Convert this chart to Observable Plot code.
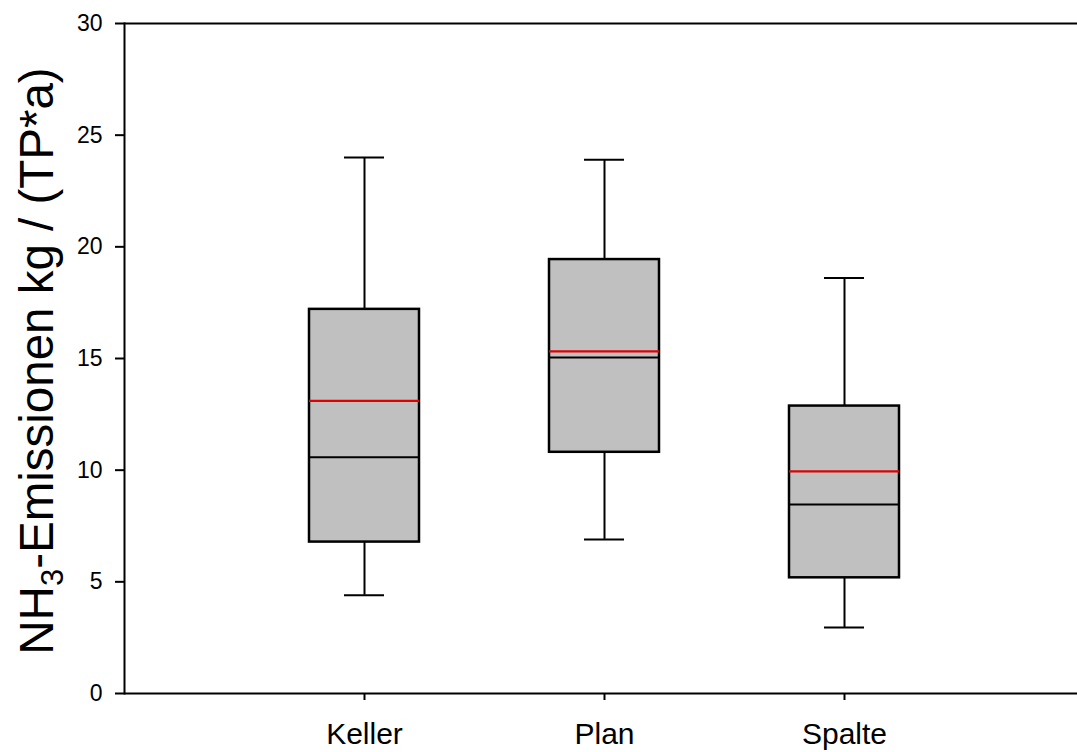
<!DOCTYPE html>
<html>
<head>
<meta charset="utf-8">
<script src="https://cdn.jsdelivr.net/npm/d3@7"></script>
<script src="https://cdn.jsdelivr.net/npm/@observablehq/plot@0.6"></script>
<style>
  html, body { margin: 0; padding: 0; background: white; }
  #chart svg { display: block; }
</style>
</head>
<body>
<div id="chart"></div>
<script>
const categories = ["Keller", "Plan", "Spalte"];
const whiskerLow = [4.4, 6.9, 2.95];
const q1 = [6.78, 10.8, 5.18];
const median = [10.58, 15.05, 8.46];
const mean = [13.1, 15.32, 9.95];
const q3 = [17.2, 19.43, 12.87];
const whiskerHigh = [24.0, 23.9, 18.6];
const yTicks = [0, 5, 10, 15, 20, 25, 30];
const yLabelParts = ["NH", "3", "-Emissionen kg / (TP*a)"];

const rows = categories.map((c, i) => ({
  cat: c, lo: whiskerLow[i], q1: q1[i], med: median[i], mean: mean[i], q3: q3[i], hi: whiskerHigh[i]
}));

const chart = Plot.plot({
  width: 1077,
  height: 752,
  marginTop: 23,
  marginBottom: 59,
  marginLeft: 124,
  marginRight: 0,
  style: { fontFamily: "'Liberation Sans', Arial, sans-serif", background: "white", color: "black" },
  x: { type: "band", domain: categories, range: [124, 1084], paddingInner: 130 / 240, paddingOuter: 185 / 240, align: 0.5 },
  y: { domain: [0, 30], range: [693, 23] },
  marks: [
    Plot.ruleX(rows, { x: "cat", y1: "lo", y2: "q1", stroke: "black", strokeWidth: 2 }),
    Plot.ruleX(rows, { x: "cat", y1: "q3", y2: "hi", stroke: "black", strokeWidth: 2 }),
    Plot.tickY(rows, { x: "cat", y: "lo", stroke: "black", strokeWidth: 2, insetLeft: 35, insetRight: 35 }),
    Plot.tickY(rows, { x: "cat", y: "hi", stroke: "black", strokeWidth: 2, insetLeft: 35, insetRight: 35 }),
    Plot.barY(rows, { x: "cat", y1: "q1", y2: "q3", fill: "#c0c0c0", stroke: "black", strokeWidth: 2.5 }),
    Plot.tickY(rows, { x: "cat", y: "med", stroke: "black", strokeWidth: 2 }),
    Plot.tickY(rows, { x: "cat", y: "mean", stroke: "#e00000", strokeWidth: 2.2 }),
    Plot.ruleY([0, 30], { stroke: "black", strokeWidth: 2 }),
    Plot.frame({ anchor: "left", stroke: "black", strokeWidth: 2 }),
    Plot.axisY({ ticks: yTicks, tickSize: 9, tickPadding: 13, fontSize: 23, label: null, strokeWidth: 2 }),
    Plot.axisX({ tickSize: 7, tickPadding: 22, fontSize: 30, label: null, strokeWidth: 2 })
  ]
});

document.getElementById("chart").appendChild(chart);

// y-axis title with subscript
const svg = d3.select(chart);
const t = svg.append("text")
  .attr("transform", "translate(53,361) rotate(-90)")
  .attr("text-anchor", "middle")
  .attr("font-size", 47.5)
  .attr("font-family", "'Liberation Sans', Arial, sans-serif")
  .attr("fill", "black");
t.append("tspan").text(yLabelParts[0]);
t.append("tspan").attr("font-size", 31).attr("dy", 10).text(yLabelParts[1]);
t.append("tspan").attr("dy", -10).text(yLabelParts[2]);
</script>
</body>
</html>
